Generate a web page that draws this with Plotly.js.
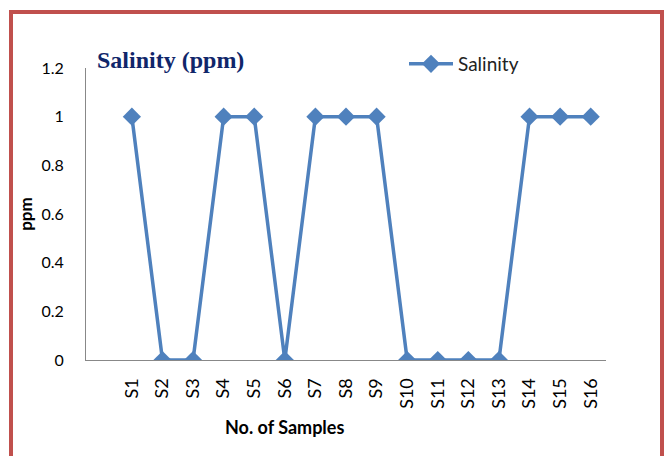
<!DOCTYPE html>
<html><head><meta charset="utf-8">
<script src="https://cdn.plot.ly/plotly-3.0.1.min.js"></script>
<style>
html,body{margin:0;padding:0;background:#fff;}
#wrap{position:relative;width:664px;height:456px;overflow:hidden;}
#chart{position:absolute;left:0;top:0;width:664px;height:456px;}
#frame{position:absolute;left:9px;top:10px;width:647px;height:460px;border:4px solid #C0504D;pointer-events:none;}
</style></head>
<body><div id="wrap"><div id="chart"></div><div id="frame"></div></div>
<script>
const categories = ["S1","S2","S3","S4","S5","S6","S7","S8","S9","S10","S11","S12","S13","S14","S15","S16"];
const salinity = [1,0,0,1,1,0,1,1,1,0,0,0,0,1,1,1];
const yTicks = [0,0.2,0.4,0.6,0.8,1,1.2];
const yTickText = ["0","0.2","0.4","0.6","0.8","1","1.2"];

const trace = {
  x: categories, y: salinity, type: 'scatter', mode: 'lines+markers', name: 'Salinity',
  line: {color: '#4F81BD', width: 3.5},
  marker: {symbol: 'diamond', size: 14, color: '#4F81BD'}
};
const pw = 664 - 86 - 58, ph = 456 - 68 - 96;
const layout = {
  width: 664, height: 456,
  margin: {l: 86, r: 58, t: 68, b: 96},
  paper_bgcolor: '#fff', plot_bgcolor: '#fff',
  font: {family: 'Lato, "Open Sans", sans-serif', color: '#000'},
  title: {text: '<b>Salinity (ppm)</b>', x: (97 - 86) / pw, xref: 'paper', xanchor: 'left',
          y: 1 - 60 / 456, yref: 'container', yanchor: 'middle',
          font: {family: '"Liberation Serif", serif', size: 24, color: '#10266A'}},
  showlegend: true,
  legend: {x: (404 - 86) / pw, y: (360 - 45) / ph, xref: 'paper', yref: 'paper', yanchor: 'top',
           orientation: 'h', itemwidth: 44, font: {size: 19, color: '#222'}, bgcolor: 'rgba(0,0,0,0)'},
  xaxis: {
    type: 'category', range: [-1.5, 15.5], showgrid: false, zeroline: false,
    showline: true, linecolor: '#888', linewidth: 1, ticks: '', tickangle: -90,
    tickfont: {size: 18, color: '#000'}, ticklabelstandoff: 10
  },
  yaxis: {
    range: [0, 1.2], tickvals: yTicks, ticktext: yTickText, showgrid: false, zeroline: false,
    showline: true, linecolor: '#888', linewidth: 1, ticks: '',
    tickfont: {size: 16, color: '#000'}, ticklabelstandoff: 18,
    title: {text: '<b>ppm</b>', font: {size: 17, color: '#000'}, standoff: 4}
  },
  annotations: [{
    text: '<b>No. of Samples</b>', xref: 'paper', yref: 'paper',
    x: (284 - 86) / pw, y: -(427 - 360) / ph, xanchor: 'center', yanchor: 'middle',
    showarrow: false, font: {size: 18, color: '#000'}
  }]
};
Plotly.newPlot('chart', [trace], layout, {displayModeBar: false, staticPlot: true});
</script></body></html>
